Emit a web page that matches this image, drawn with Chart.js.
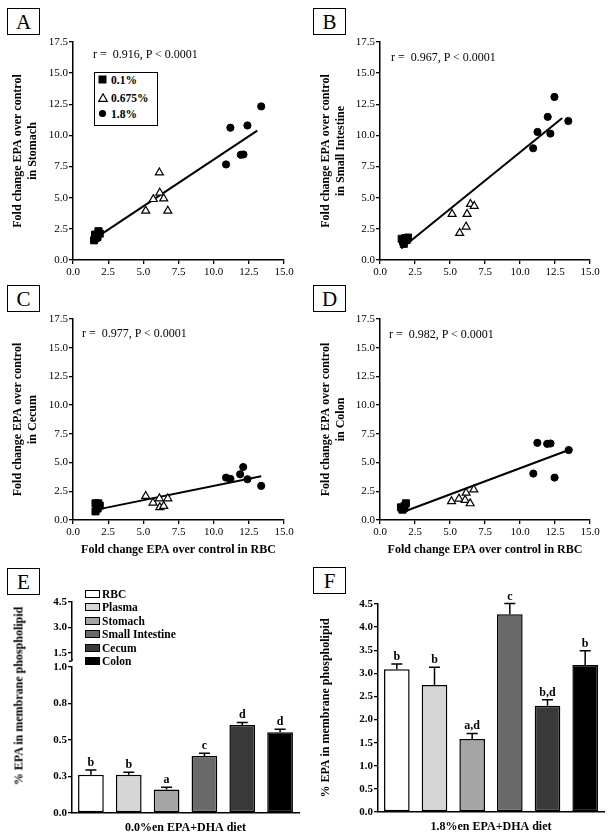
<!DOCTYPE html>
<html><head><meta charset="utf-8">
<script src="https://cdn.jsdelivr.net/npm/chart.js@4.4.1/dist/chart.umd.min.js"></script>
<style>
html,body{margin:0;padding:0;background:#fff;}
#wrap{position:relative;width:612px;height:839px;overflow:hidden;font-family:"Liberation Serif","Times New Roman",serif;color:#000;background:#fff;}
#wrap canvas{position:absolute;left:0;top:0;}
.lab{position:absolute;width:31px;height:25px;border:1px solid #000;font-size:21px;line-height:26px;text-align:center;background:#fff;z-index:5;}
.ann{position:absolute;font-size:12px;white-space:nowrap;line-height:14px;z-index:5;}
.leg{position:absolute;z-index:5;}
.ytl{position:absolute;font-size:12px;font-weight:bold;white-space:nowrap;transform:translate(-50%,-50%) rotate(-90deg);z-index:5;}
</style></head>
<body><div id="wrap">
<canvas id="cA" width="612" height="839"></canvas>
<canvas id="cB" width="612" height="839"></canvas>
<canvas id="cC" width="612" height="839"></canvas>
<canvas id="cD" width="612" height="839"></canvas>
<canvas id="cE" width="612" height="839"></canvas>
<canvas id="cF" width="612" height="839"></canvas>
</div>
<script>
// ---------- DATA ----------
const xTickValues = [0, 2.5, 5, 7.5, 10, 12.5, 15];
const yTickValues = [0, 2.5, 5, 7.5, 10, 12.5, 15, 17.5];
const doseLabels = ['0.1%', '0.675%', '1.8%'];

// Panel A: Stomach vs RBC
const aLow  = [[1.50,1.58],[1.57,2.04],[1.62,1.77],[1.74,1.85],[1.81,2.31],[1.90,2.12]];
const aMid  = [[5.17,3.94],[5.71,4.88],[6.14,7.02],[6.17,5.39],[6.45,4.93],[6.74,3.94]];
const aHigh = [[10.88,7.67],[11.19,10.62],[11.93,8.45],[12.12,8.47],[12.40,10.80],[13.38,12.33]];
const aFit  = [[1.70,1.83],[13.10,10.38]];
// Panel B: Small Intestine vs RBC
const bLow  = [[1.55,1.70],[1.65,1.50],[1.70,1.30],[1.80,1.75],[1.90,1.60],[2.00,1.80]];
const bMid  = [[5.15,3.69],[5.69,2.16],[6.15,2.67],[6.22,3.69],[6.46,4.49],[6.73,4.33]];
const bHigh = [[10.94,8.97],[11.25,10.28],[11.98,11.49],[12.17,10.15],[12.46,13.09],[13.45,11.16]];
const bFit  = [[1.52,0.93],[13.02,11.40]];
// Panel C: Cecum vs RBC
const cLow  = [[1.60,1.45],[1.80,1.45],[1.70,1.20],[1.90,1.25],[1.60,0.75],[1.75,1.00]];
const cMid  = [[5.17,2.08],[5.69,1.50],[6.14,1.87],[6.17,1.10],[6.45,1.21],[6.74,1.87]];
const cHigh = [[10.88,3.69],[11.19,3.58],[11.88,3.98],[12.10,4.61],[12.40,3.55],[13.38,2.97]];
const cFit  = [[1.60,0.88],[13.38,3.81]];
// Panel D: Colon vs RBC
const dLow  = [[1.50,1.10],[1.60,0.90],[1.65,1.00],[1.75,1.20],[1.70,1.05],[1.85,1.45]];
const dMid  = [[5.11,1.62],[5.64,1.85],[6.08,1.73],[6.15,2.37],[6.44,1.44],[6.70,2.65]];
const dHigh = [[10.95,4.04],[11.24,6.72],[11.94,6.63],[12.18,6.66],[12.47,3.69],[13.48,6.09]];
const dFit  = [[1.69,0.72],[13.48,6.09]];

// Panels E / F: % EPA in membrane phospholipid
const tissues = ['RBC', 'Plasma', 'Stomach', 'Small Intestine', 'Cecum', 'Colon'];
const eMeans = [0.261, 0.261, 0.161, 0.391, 0.602, 0.552];
const eSem   = [0.034, 0.018, 0.016, 0.018, 0.018, 0.021];
const eLetters = ['b', 'b', 'a', 'c', 'd', 'd'];
const eLowTicks = [0, 0.25, 0.5, 0.75, 1.0];
const eHighTicks = [1.5, 3.0, 4.5];
const fMeans = [3.09, 2.75, 1.58, 4.28, 2.30, 3.18];
const fSem   = [0.11, 0.38, 0.12, 0.23, 0.13, 0.31];
const fLetters = ['b', 'b', 'a,d', 'c', 'b,d', 'b'];
const fTicks = [0, 0.5, 1.0, 1.5, 2.0, 2.5, 3.0, 3.5, 4.0, 4.5];

// ---------- STYLE ----------
const tissueColors = ['#ffffff', '#d6d6d6', '#a5a5a5', '#6a6a6a', '#3a3a3a', '#000000'];
const FONT = '"Liberation Serif", "Times New Roman", serif';
Chart.defaults.font.family = FONT;
Chart.defaults.color = '#000';

function toXY(arr){ return arr.map(p => ({x: p[0], y: p[1]})); }
function setTicks(vals){ return s => { s.ticks = vals.map(v => ({value: v})); }; }
const gridCfg = {display:true, drawOnChartArea:false, drawTicks:true, tickLength:4, color:'#000', lineWidth:1.3};
const borderCfg = {display:true, color:'#000', width:1.5};

function makeScatter(id, geo, low, mid, high, fit, yTitle, xTitle){
  const hx = xTitle ? 37 : 20;
  const wy = geo.L - geo.tl;
  return new Chart(document.getElementById(id), {
    type: 'scatter',
    data: {datasets: [
      {label:'fit', data: toXY(fit), showLine:true, borderColor:'#000', borderWidth:2, pointRadius:0, order:4},
      {label: doseLabels[0], data: toXY(low), pointStyle:'rect', pointRadius:5, backgroundColor:'#000', borderColor:'#000', borderWidth:1, order:1},
      {label: doseLabels[1], data: toXY(mid), pointStyle:'triangle', pointRadius:4.6, backgroundColor:'#fff', borderColor:'#000', borderWidth:1.2, order:2},
      {label: doseLabels[2], data: toXY(high), pointStyle:'circle', pointRadius:3.6, backgroundColor:'#000', borderColor:'#000', borderWidth:1, order:3}
    ]},
    options: {
      responsive:false, animation:false, events:[],
      layout: {padding: {left: geo.tl, top: geo.T, right: 612 - geo.R, bottom: 839 - geo.B - hx}},
      plugins: {legend:{display:false}, tooltip:{enabled:false}},
      scales: {
        x: {type:'linear', min:0, max:15, afterBuildTicks: setTicks(xTickValues),
            afterFit: s => { s.height = hx; },
            grid: gridCfg, border: borderCfg,
            ticks: {font:{size:11}, padding:2, maxRotation:0, autoSkip:false, callback: v => Number(v).toFixed(1)},
            title: {display: !!xTitle, text: xTitle || '', font:{size:12, weight:'bold'}, padding:{top:2, bottom:0}}},
        y: {type:'linear', min:0, max:17.5, afterBuildTicks: setTicks(yTickValues),
            afterFit: s => { s.width = wy; },
            grid: gridCfg, border: borderCfg,
            ticks: {font:{size:11}, padding:1, autoSkip:false, callback: v => Number(v).toFixed(1)},
            title: {display:true, text: yTitle, font:{size:12, weight:'bold'}, padding:{top:3, bottom:0}}}
      }
    }
  });
}

const xT = 'Fold change EPA over control in RBC';
makeScatter('cA', {tl:8, L:73, R:284, T:42, B:260}, aLow, aMid, aHigh, aFit, ['Fold change EPA over control', 'in Stomach'], null);
makeScatter('cB', {tl:316, L:380, R:590, T:42, B:260}, bLow, bMid, bHigh, bFit, ['Fold change EPA over control', 'in Small Intestine'], null);
makeScatter('cC', {tl:8, L:73, R:284, T:319, B:520}, cLow, cMid, cHigh, cFit, ['Fold change EPA over control', 'in Cecum'], xT);
makeScatter('cD', {tl:316, L:380, R:590, T:319, B:520}, dLow, dMid, dHigh, dFit, ['Fold change EPA over control', 'in Colon'], xT);

// error bars + significance letters
const errPlugin = {
  id: 'errbars',
  afterDatasetsDraw(chart, args, o){
    const meta = chart.getDatasetMeta(0);
    const ys = chart.scales[o.yId];
    const ctx = chart.ctx;
    ctx.save();
    ctx.strokeStyle = '#000'; ctx.fillStyle = '#000'; ctx.lineWidth = 1.5;
    ctx.font = 'bold 12px ' + FONT; ctx.textAlign = 'center'; ctx.textBaseline = 'alphabetic';
    meta.data.forEach((bar, i) => {
      const yb = ys.getPixelForValue(o.means[i]);
      const yt = ys.getPixelForValue(o.means[i] + o.sem[i]);
      ctx.beginPath();
      ctx.moveTo(bar.x, yb); ctx.lineTo(bar.x, yt);
      ctx.moveTo(bar.x - 5.5, yt); ctx.lineTo(bar.x + 5.5, yt);
      ctx.stroke();
      ctx.fillText(o.letters[i], bar.x, yt - 4);
    });
    ctx.restore();
  }
};
const breakPlugin = {
  id: 'axisbreak',
  afterDraw(chart){
    const ctx = chart.ctx;
    const x = chart.chartArea.left;
    const up = chart.scales.yUp;
    const yb = up.bottom;
    ctx.save();
    ctx.fillStyle = '#fff';
    ctx.fillRect(x - 3, yb - 4, 6, 6);
    ctx.strokeStyle = '#000'; ctx.lineWidth = 1.3;
    ctx.beginPath();
    ctx.moveTo(x, yb - 5);
    ctx.quadraticCurveTo(x + 1, yb - 2, x - 3, yb - 3);
    ctx.stroke();
    ctx.restore();
  }
};

function makeBars(id, geo, means, sem, letters, xTitle, broken){
  const hx = 22;
  const wy = geo.L - geo.tl;
  const yBase = {grid: gridCfg, border: borderCfg, position:'left',
    afterFit: s => { s.width = wy; },
    ticks: {font:{size:11, weight:'bold'}, padding:1, autoSkip:false, callback: v => Number(v).toFixed(1)}};
  const xCfg = {type:'category', afterFit: s => { s.height = hx; }, grid:{display:false}, border: borderCfg,
          ticks:{display:false}, title:{display:true, text:xTitle, font:{size:12, weight:'bold'}, padding:{top:0, bottom:0}}};
  let scales;
  if (broken) {
    // left boxes are laid out in reverse order: lower segment first, upper segment second
    scales = {
      x: xCfg,
      y: Object.assign({}, yBase, {type:'linear', stack:'e', stackWeight:149, min:0, max:1.02, afterBuildTicks: setTicks(eLowTicks)}),
      yUp: Object.assign({}, yBase, {type:'linear', stack:'e', stackWeight:62, min:0.85, max:4.5, afterBuildTicks: setTicks(eHighTicks)})
    };
  } else {
    scales = {
      x: xCfg,
      y: Object.assign({}, yBase, {type:'linear', min:0, max:4.5, afterBuildTicks: setTicks(fTicks),
          title:{display:true, text:'% EPA in membrane phospholipid', font:{size:12, weight:'bold'}, padding:{top:3, bottom:0}}})
    };
  }
  return new Chart(document.getElementById(id), {
    type: 'bar',
    data: {labels: tissues, datasets: [{data: means, yAxisID:'y', backgroundColor: tissueColors, borderColor:'#000', borderWidth:1.5, borderSkipped:false, barPercentage:0.68, categoryPercentage:1}]},
    options: {
      responsive:false, animation:false, events:[],
      layout: {padding: {left: geo.tl, top: geo.T, right: 612 - geo.R, bottom: 839 - geo.B - hx}},
      plugins: {legend:{display:false}, tooltip:{enabled:false}, errbars:{yId:'y', means: means, sem: sem, letters: letters}},
      scales: scales
    },
    plugins: broken ? [errPlugin, breakPlugin] : [errPlugin]
  });
}
makeBars('cE', {tl:30, L:72, R:299, T:602, B:813}, eMeans, eSem, eLetters, '0.0%en EPA+DHA diet', true);
makeBars('cF', {tl:316, L:378, R:604, T:604, B:812}, fMeans, fSem, fLetters, '1.8%en EPA+DHA diet', false);

// ---------- HTML text: panel labels, annotations, legends ----------
const wrap = document.getElementById('wrap');
function addDiv(cls, html, css){ const d = document.createElement('div'); d.className = cls; d.innerHTML = html; Object.assign(d.style, css); wrap.appendChild(d); return d; }
[['A',7,8],['B',313,8],['C',7,285],['D',313,285],['E',7,568],['F',313,567]].forEach(p => addDiv('lab', p[0], {left:p[1]+'px', top:p[2]+'px'}));
const corr = [['r = &nbsp;0.916, P &lt; 0.0001',93,47],['r = &nbsp;0.967, P &lt; 0.0001',391,50],['r = &nbsp;0.977, P &lt; 0.0001',82,326],['r = &nbsp;0.982, P &lt; 0.0001',389,327]];
corr.forEach(c => addDiv('ann', c[0], {left:c[1]+'px', top:c[2]+'px'}));

// dose legend (panel A)
const lg = addDiv('leg', '', {left:'94px', top:'72px', width:'62px', height:'52px', border:'1px solid #000', background:'#fff'});
const sym = [
  '<svg width="9" height="9"><rect x="0.5" y="0.5" width="8" height="8" fill="#000"/></svg>',
  '<svg width="10" height="9"><polygon points="5,0.8 9.2,8.3 0.8,8.3" fill="#fff" stroke="#000" stroke-width="1.2"/></svg>',
  '<svg width="9" height="9"><circle cx="4.5" cy="4.5" r="3.6" fill="#000"/></svg>'
];
[6, 24, 40].forEach((t, i) => {
  const row = document.createElement('div');
  Object.assign(row.style, {position:'absolute', left:'3px', top:(t-6)+'px', height:'13px', display:'flex', alignItems:'center', fontSize:'11.5px', fontWeight:'bold', whiteSpace:'nowrap'});
  row.innerHTML = '<span style="display:inline-block;width:12px;line-height:0">' + sym[i] + '</span><span style="margin-left:1px">' + doseLabels[i] + '</span>';
  lg.appendChild(row);
});

// tissue legend (panel E)
const eRows = [594, 607, 621, 634, 648, 661];
tissues.forEach((t, i) => {
  addDiv('leg', '<span style="display:inline-block;width:13px;height:6px;border:1.5px solid #000;background:' + tissueColors[i] + ';margin-right:2px"></span>' + t,
    {left:'85px', top:(eRows[i]-7)+'px', height:'14px', display:'flex', alignItems:'center', fontSize:'11.5px', fontWeight:'bold', whiteSpace:'nowrap'});
});
addDiv('ytl', '% EPA in membrane phospholipid', {left:'19px', top:'696px'});
</script>
</body></html>
